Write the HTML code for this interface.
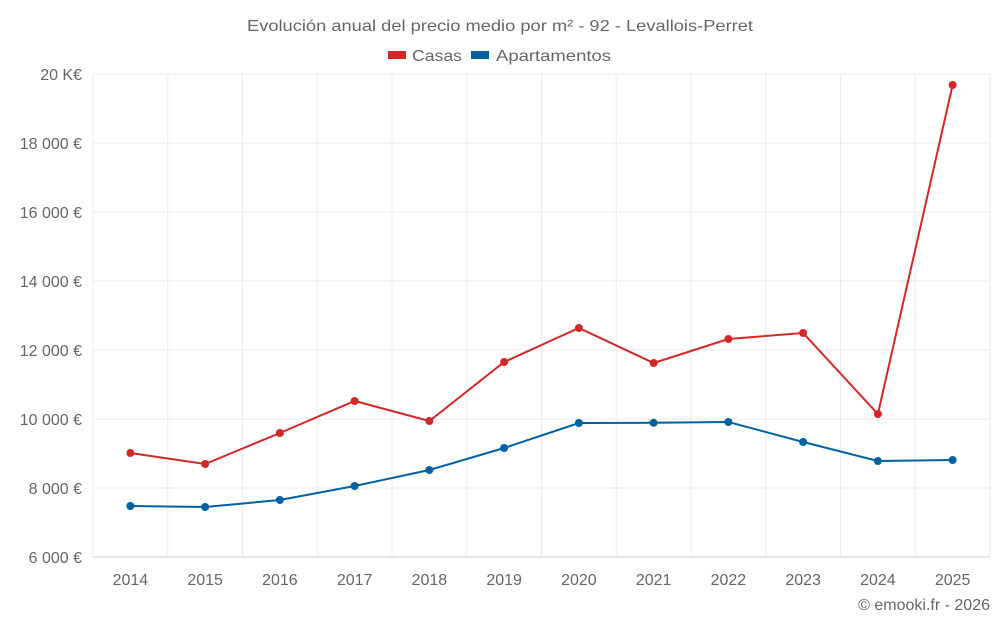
<!DOCTYPE html>
<html><head><meta charset="utf-8"><style>
body{margin:0;background:#fff;font-family:"Liberation Sans",Roboto,sans-serif;}
svg text{font-family:"Liberation Sans",sans-serif;fill:#666;}
</style></head><body>
<svg id="c" width="1000" height="625">
<text x="247" y="31" font-size="16" textLength="506" lengthAdjust="spacingAndGlyphs">Evolución anual del precio medio por m² - 92 - Levallois-Perret</text>
<g>
<g><rect x="388" y="51" width="18" height="8" fill="#d62728"/><text x="412" y="61" font-size="16" textLength="50" lengthAdjust="spacingAndGlyphs">Casas</text></g>
<g><rect x="471" y="51" width="18" height="8" fill="#0062a0"/><text x="496" y="61" font-size="16" textLength="115" lengthAdjust="spacingAndGlyphs">Apartamentos</text></g>
</g>
<g id="grid"></g><g id="axes"></g><g id="series"></g>
<text x="990" y="610" text-anchor="end" font-size="16">© emooki.fr - 2026</text>
</svg>
<script>
const years=["2014","2015","2016","2017","2018","2019","2020","2021","2022","2023","2024","2025"];
const casas=[9014,8696,9594,10522,9942,11652,12638,11623,12319,12493,10145,19681];
const apartamentos=[7478,7449,7652,8058,8522,9159,9884,9890,9913,9333,8783,8812];
const yTicks=[6000,8000,10000,12000,14000,16000,18000,20000];
const yTickLabels=["6 000 €","8 000 €","10 000 €","12 000 €","14 000 €","16 000 €","18 000 €","20 K€"];
const L=93,R=990,T=74,B=557,ymin=6000,ymax=20000;
const bw=(R-L)/years.length;
const x=i=>L+bw*(i+0.5);
const y=v=>B-(v-ymin)/(ymax-ymin)*(B-T);
const ns="http://www.w3.org/2000/svg";
function mk(tag,parent,attrs){const e=document.createElementNS(ns,tag);for(const k in attrs)e.setAttribute(k,attrs[k]);parent.appendChild(e);return e;}
const g=document.getElementById('grid'),a=document.getElementById('axes'),s=document.getElementById('series');
yTicks.forEach((t,i)=>{
 const l=mk('line',g,{x1:L,x2:R,y1:y(t),y2:y(t),stroke:i==0?'#ccc':'#ebebeb'});
 
 
 const tx=mk('text',a,{x:82,y:y(t)+6,'text-anchor':'end','font-size':16});
 tx.textContent=yTickLabels[i];
 
 
});
for(let i=0;i<=years.length;i++){
 const l=mk('line',g,{x1:L+bw*i,x2:L+bw*i,y1:T,y2:B,stroke:'#ebebeb'});
 
 
}
years.forEach((yr,i)=>{
 const tx=mk('text',a,{x:x(i),y:585,'text-anchor':'middle','font-size':16});
 tx.textContent=yr;
 
 
});
function series(vals,color,name){
 const p=mk('polyline',s,{points:vals.map((v,i)=>x(i)+','+y(v)).join(' '),fill:'none',stroke:color,'stroke-width':2});
 
 
 vals.forEach((v,i)=>{
  const c=mk('circle',s,{cx:x(i),cy:y(v),r:4,fill:color});
  
  
 });
}
series(casas,'#d62728','casas');
series(apartamentos,'#0062a0','apartamentos');
</script>
</body></html>
